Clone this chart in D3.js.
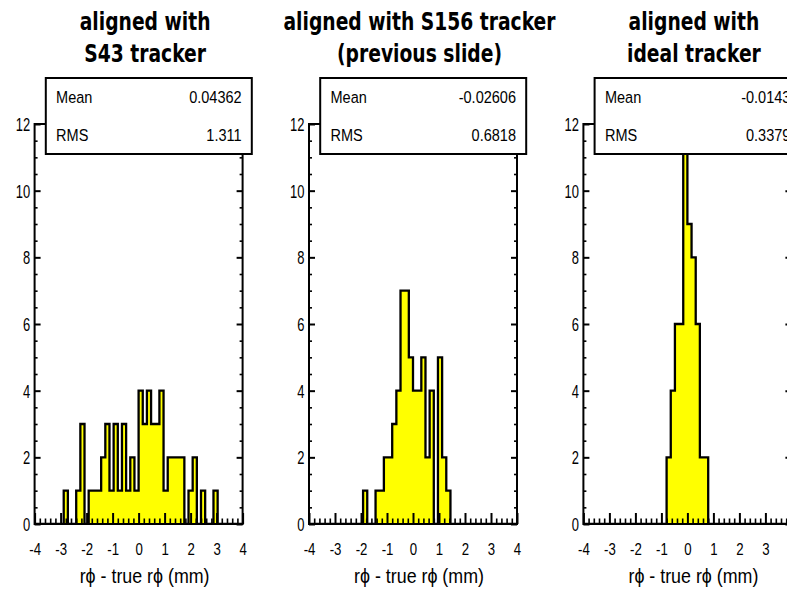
<!DOCTYPE html>
<html>
<head>
<meta charset="utf-8">
<script src="https://cdn.jsdelivr.net/npm/d3@7"></script>
<style>
  body { margin: 0; background: #fff; }
  svg { display: block; }
</style>
</head>
<body>
<script>
// Histogram binning shared by the three panels: 50 bins over [-4, 4] mm
const xMin = -4, xMax = 4, nBins = 50;
const yMax = 12;

// Panel titles
const titlesS43 = ["aligned with", "S43 tracker"];
const titlesS156 = ["aligned with S156 tracker", "(previous slide)"];
const titlesIdeal = ["aligned with", "ideal tracker"];

// Bin contents (entries per bin), left to right
const countsS43 = [0,0,0,0,0,0,0, 1,0,0, 1,3,0, 1,1,1, 2,3,1,3,1,3,1,2,1,
                   4,3,4,3,3,4,1, 2,2,2,2, 0,1,2,0,1,0,0,1, 0,0,0,0,0,0];
const countsS156 = [0,0,0,0,0,0,0,0,0,0,0,0,0, 1,0,0, 1,1,2,2,3,4,7,7,5,
                    4,4,5,2,4,0,5,2,1, 0,0,0,0,0,0,0,0,0,0,0,0,0,0,0,0];
const countsIdeal = [0,0,0,0,0,0,0,0,0,0,0,0,0,0,0,0,0,0,0,0,
                     2,4,6,6,15,9,8,6,2,2,
                     0,0,0,0,0,0,0,0,0,0,0,0,0,0,0,0,0,0,0,0];

// Statistics box entries
const statLabels = ["Mean", "RMS"];
const meanValues = ["0.04362", "-0.02606", "-0.0143"];
const rmsValues = ["1.311", "0.6818", "0.3379"];

// Axis ticks
const xMajorTicks = [-4, -3, -2, -1, 0, 1, 2, 3, 4];
const yMajorTicks = [0, 2, 4, 6, 8, 10, 12];
const xAxisTitle = "r\u03D5 - true r\u03D5 (mm)";

const panelTitles = [titlesS43, titlesS156, titlesIdeal];
const panelCounts = [countsS43, countsS156, countsIdeal];

// ---- layout ----
const W = 787, H = 591;
const firstLeft = 34.6, panelStep = 274.4, plotW = 208;
const plotTop = 124, plotBottom = 524;
const sansFont = "'Liberation Sans', Arial, Helvetica, sans-serif";
const titleFont = "'DejaVu Sans', sans-serif";

const svg = d3.select("body").append("svg")
  .attr("width", W).attr("height", H)
  .attr("viewBox", `0 0 ${W} ${H}`);
svg.append("rect").attr("width", W).attr("height", H).attr("fill", "#fff");

function scaledText(g, x, y, str, opts) {
  const t = g.append("text")
    .attr("transform", `translate(${x},${y}) scale(${opts.sx || 1},1)`)
    .attr("text-anchor", opts.anchor || "start")
    .attr("font-family", opts.family || sansFont)
    .attr("font-size", opts.size)
    .attr("font-weight", opts.weight || "normal")
    .attr("fill", "#000")
    .text(str);
  if (opts.dy) t.attr("dy", opts.dy);
  return t;
}

const edges = d3.range(nBins + 1).map(k => xMin + k * (xMax - xMin) / nBins);
const xMinorTicks = d3.range(xMin, xMax + 1e-9, 0.2).map(v => +v.toFixed(2))
  .filter(v => Math.abs(v - Math.round(v)) > 1e-6);
const yMinorTicks = d3.range(0, yMax + 1e-9, 0.5).filter(v => v % 2 !== 0);

panelCounts.forEach((counts, i) => {
  const left = firstLeft + i * panelStep;
  const x = d3.scaleLinear().domain([xMin, xMax]).range([left, left + plotW]);
  const y = d3.scaleLinear().domain([0, yMax]).range([plotBottom, plotTop]);
  const g = svg.append("g");

  // clip region = plotting frame
  const clipId = "frame-clip-" + i;
  g.append("clipPath").attr("id", clipId)
    .append("rect")
    .attr("x", x(xMin)).attr("y", y(yMax))
    .attr("width", x(xMax) - x(xMin)).attr("height", y(0) - y(yMax));

  // step outline of the histogram
  const pts = [[edges[0], 0]];
  counts.forEach((c, k) => { pts.push([edges[k], c]); pts.push([edges[k + 1], c]); });
  pts.push([edges[nBins], 0]);
  const line = d3.line().x(d => x(d[0])).y(d => y(d[1]));

  const hist = g.append("g").attr("clip-path", `url(#${clipId})`);
  hist.append("path").attr("d", line(pts) + "Z")
    .attr("fill", "#ffff00").attr("stroke", "none");
  hist.append("path").attr("d", line(pts))
    .attr("fill", "none").attr("stroke", "#000")
    .attr("stroke-width", 2.3).attr("stroke-linejoin", "miter");

  // axes: ticks point inward
  const styleAxis = (sel, width) => {
    sel.select(".domain").remove();
    sel.selectAll(".tick line").attr("stroke", "#000").attr("stroke-width", width);
  };

  const xMajor = g.append("g").attr("transform", `translate(0,${plotBottom})`)
    .call(d3.axisBottom(x).tickValues(xMajorTicks).tickSize(-11).tickSizeOuter(0)
      .tickFormat(d => String(d)));
  styleAxis(xMajor, 2);
  xMajor.selectAll(".tick text")
    .attr("y", null).attr("dy", null)
    .attr("transform", "translate(0,31) scale(0.8,1)")
    .attr("font-family", sansFont).attr("font-size", 16.5).attr("fill", "#000");

  const xMinor = g.append("g").attr("transform", `translate(0,${plotBottom})`)
    .call(d3.axisBottom(x).tickValues(xMinorTicks).tickSize(-5.5).tickSizeOuter(0).tickFormat(""));
  styleAxis(xMinor, 1.6);

  const yMajor = g.append("g").attr("transform", `translate(${x(xMin)},0)`)
    .call(d3.axisLeft(y).tickValues(yMajorTicks).tickSize(-6).tickSizeOuter(0)
      .tickFormat(d => String(d)));
  styleAxis(yMajor, 2);
  yMajor.selectAll(".tick text")
    .attr("x", null).attr("dy", "0.36em")
    .attr("transform", "translate(-4.5,0) scale(0.72,1)")
    .attr("text-anchor", "end")
    .attr("font-family", sansFont).attr("font-size", 18).attr("fill", "#000");

  const yMinor = g.append("g").attr("transform", `translate(${x(xMin)},0)`)
    .call(d3.axisLeft(y).tickValues(yMinorTicks).tickSize(-3).tickSizeOuter(0).tickFormat(""));
  styleAxis(yMinor, 1.6);

  const yMajorR = g.append("g").attr("transform", `translate(${x(xMax)},0)`)
    .call(d3.axisRight(y).tickValues(yMajorTicks).tickSize(-6).tickSizeOuter(0).tickFormat(""));
  styleAxis(yMajorR, 2);
  const yMinorR = g.append("g").attr("transform", `translate(${x(xMax)},0)`)
    .call(d3.axisRight(y).tickValues(yMinorTicks).tickSize(-3).tickSizeOuter(0).tickFormat(""));
  styleAxis(yMinorR, 1.6);

  // frame
  g.append("rect")
    .attr("x", x(xMin)).attr("y", y(yMax))
    .attr("width", x(xMax) - x(xMin)).attr("height", y(0) - y(yMax))
    .attr("fill", "none").attr("stroke", "#000").attr("stroke-width", 2);

  // statistics box
  const zero = x(0);
  const boxL = zero - 92.8, boxW = 206, boxT = 78, boxB = 154;
  g.append("rect")
    .attr("x", boxL).attr("y", boxT).attr("width", boxW).attr("height", boxB - boxT)
    .attr("fill", "#fff").attr("stroke", "#000").attr("stroke-width", 2);
  const statRows = [[statLabels[0], meanValues[i], 102.5], [statLabels[1], rmsValues[i], 140.5]];
  statRows.forEach(([lab, val, base]) => {
    scaledText(g, zero - 82.5, base, lab, { size: 16.5, sx: 0.88 });
    scaledText(g, zero + 103, base, val, { size: 16.5, sx: 0.88, anchor: "end" });
  });

  // title
  const titleX = zero + 6.5;
  panelTitles[i].forEach((s, j) => {
    scaledText(svg, titleX, 30 + j * 31.5, s,
      { size: 24, sx: 0.78, anchor: "middle", family: titleFont, weight: "bold" });
  });

  // x axis title
  scaledText(g, zero + 6, 583, xAxisTitle, { size: 20.5, sx: 0.87, anchor: "middle" });
});
</script>
</body>
</html>
